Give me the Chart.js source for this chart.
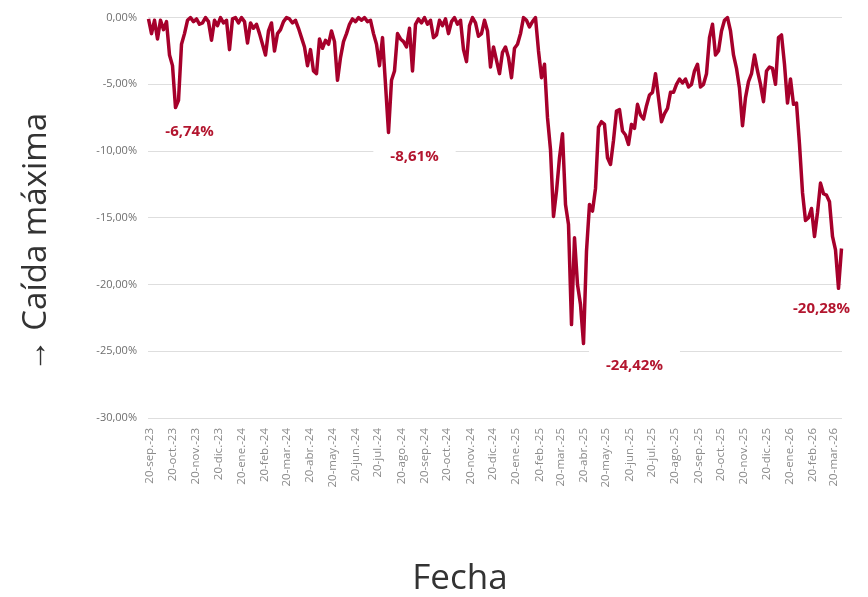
<!DOCTYPE html>
<html><head><meta charset="utf-8">
<script src="https://cdn.jsdelivr.net/npm/chart.js@4.4.1/dist/chart.umd.min.js"></script>
<style>html,body{margin:0;padding:0;background:#fff}#wrap{width:868px;height:597px}</style>
</head><body><div id="wrap"><canvas id="c" width="868" height="597"></canvas></div>
<script>
// Month tick labels (20th of each month)
const tickLabels = ['20-sep.-23','20-oct.-23','20-nov.-23','20-dic.-23','20-ene.-24','20-feb.-24','20-mar.-24','20-abr.-24','20-may.-24','20-jun.-24','20-jul.-24','20-ago.-24','20-sep.-24','20-oct.-24','20-nov.-24','20-dic.-24','20-ene.-25','20-feb.-25','20-mar.-25','20-abr.-25','20-may.-25','20-jun.-25','20-jul.-25','20-ago.-25','20-sep.-25','20-oct.-25','20-nov.-25','20-dic.-25','20-ene.-26','20-feb.-26','20-mar.-26'];
// Drawdown (%) sampled every 4 days starting 2 days before 20-sep-23
const drawdown = [
-0.1,-1.2,-0.2,-1.6,-0.2,-0.9,-0.3,-2.8,-3.6,-6.74,
-6.2,-2.0,-1.2,-0.2,0,-0.3,-0.1,-0.5,-0.4,0,
-0.3,-1.7,-0.2,-0.6,0,-0.4,-0.2,-2.4,-0.1,0,
-0.4,0,-0.3,-1.9,-0.4,-0.8,-0.5,-1.2,-2.0,-2.8,
-1.0,-0.4,-2.5,-1.2,-0.9,-0.3,0,-0.1,-0.4,-0.2,
-0.8,-1.5,-2.2,-3.6,-2.4,-4.0,-4.2,-1.6,-2.3,-1.7,
-2.0,-1.0,-1.8,-4.7,-3.0,-1.8,-1.2,-0.5,-0.1,-0.3,
0,-0.2,0,-0.3,-0.2,-1.2,-2.0,-3.6,-1.5,-5.0,
-8.61,-4.7,-4.0,-1.2,-1.6,-1.8,-2.2,-0.8,-4.0,-0.5,
-0.1,-0.4,0,-0.5,-0.2,-1.5,-1.3,-0.2,-0.6,-0.1,
-1.2,-0.3,0,-0.5,-0.2,-2.4,-3.3,-0.6,0,-0.4,
-1.4,-1.2,-0.2,-1.0,-3.7,-2.2,-3.2,-4.2,-2.6,-2.2,
-3.0,-4.5,-2.3,-2.0,-1.2,0,-0.2,-0.7,-0.3,0,
-2.5,-4.5,-3.5,-7.5,-9.9,-14.9,-13.0,-10.5,-8.7,-14.0,
-15.5,-23.0,-16.5,-20.0,-21.5,-24.42,-17.5,-14.0,-14.5,-12.8,
-8.2,-7.8,-8.0,-10.5,-11.0,-9.2,-7.0,-6.9,-8.5,-8.8,
-9.5,-8.0,-8.3,-6.5,-7.3,-7.6,-6.6,-5.8,-5.6,-4.2,
-6.0,-7.8,-7.2,-6.8,-5.6,-5.6,-5.0,-4.6,-4.9,-4.6,
-5.2,-5.0,-4.0,-3.5,-5.2,-5.0,-4.2,-1.5,-0.5,-2.8,
-2.5,-1.0,-0.2,0,-1.0,-2.8,-3.8,-5.3,-8.1,-6.0,
-4.8,-4.2,-2.8,-4.0,-5.0,-6.3,-4.0,-3.7,-3.8,-5.0,
-1.5,-1.3,-3.5,-6.4,-4.6,-6.5,-6.4,-9.5,-13.1,-15.2,
-15.0,-14.3,-16.4,-14.6,-12.4,-13.2,-13.3,-13.8,-16.4,-17.4,
-20.28,-17.3
];
const troughValues = [-6.74, -8.61, -24.42, -20.28];
const troughTexts = ['-6,74%', '-8,61%', '-24,42%', '-20,28%'];
const yTicks = [0, -5, -10, -15, -20, -25, -30];

const startDay = -2, stepDays = 4;
const DAY = 86400000;
const origin = Date.UTC(2023, 8, 20);
const tickDays = tickLabels.map((_, i) => Math.round((Date.UTC(2023, 8 + i, 20) - origin) / DAY));
const points = drawdown.map((v, i) => ({x: startDay + stepDays * i, y: v}));

const LINE = '#a6002b';
const LABEL = '#b3162f';
const FONT = '"Open Sans", "Liberation Sans", sans-serif';

const troughLabels = {
  id: 'troughLabels',
  beforeDatasetsDraw(chart, args, opts) {
    const {ctx, scales: {x, y}} = chart;
    ctx.save();
    ctx.font = 'bold 15px ' + FONT;
    ctx.textAlign = 'center';
    ctx.textBaseline = 'middle';
    troughValues.forEach((v, k) => {
      const idx = drawdown.indexOf(v);
      const off = opts.offsets[k];
      const px = x.getPixelForValue(points[idx].x) + off[0];
      const py = y.getPixelForValue(v) + off[1];
      const w = ctx.measureText(troughTexts[k]).width + 2 * opts.padX;
      const h = opts.boxH;
      ctx.fillStyle = '#ffffff';
      ctx.fillRect(px - w / 2, py - h / 2, w, h);
      ctx.fillStyle = LABEL;
      ctx.fillText(troughTexts[k], px, py);
    });
    ctx.restore();
  }
};

new Chart(document.getElementById('c'), {
  type: 'line',
  data: {
    datasets: [{
      data: points,
      borderColor: LINE,
      borderWidth: 3.5,
      pointRadius: 0,
      tension: 0,
      borderJoinStyle: 'round',
      clip: 4
    }]
  },
  plugins: [troughLabels],
  options: {
    responsive: false,
    animation: false,
    devicePixelRatio: 1,
    layout: {padding: {top: 12, right: 26, left: 0, bottom: 0}},
    plugins: {
      legend: {display: false},
      tooltip: {enabled: false},
      troughLabels: {offsets: [[14, 24], [26, 24], [51, 22], [-17, 20]], padX: 17, boxH: 36}
    },
    scales: {
      x: {
        type: 'linear',
        min: -2.67,
        max: 922.67,
        afterBuildTicks: (s) => { s.ticks = tickDays.map(d => ({value: d})); },
        afterFit: (s) => { s.height = 179; },
        grid: {display: false},
        border: {display: false},
        ticks: {
          autoSkip: false,
          maxRotation: 90,
          minRotation: 90,
          padding: 2,
          color: '#8a8a8a',
          font: {family: FONT, size: 11.5},
          callback: (v) => { const k = tickDays.indexOf(v); return k >= 0 ? tickLabels[k] : ''; }
        },
        title: {
          display: true,
          text: 'Fecha\u2003\u2003',
          color: '#333',
          font: {family: FONT, size: 35, lineHeight: 1},
          padding: {top: 0, bottom: 0}
        }
      },
      y: {
        min: -30,
        max: 0,
        afterBuildTicks: (s) => { s.ticks = yTicks.map(v => ({value: v})); },
        afterFit: (s) => { s.width = 148; },
        grid: {color: '#dedede', drawTicks: false, lineWidth: 1},
        border: {display: false},
        ticks: {
          padding: 11,
          color: '#6e6e6e',
          font: {family: FONT, size: 11},
          callback: (v) => v.toFixed(2).replace('.', ',') + '%'
        },
        title: {
          display: true,
          text: '→ Caída máxima\u2003\u2002',
          color: '#333',
          font: {family: FONT, size: 33, lineHeight: 1},
          padding: {top: 20, bottom: 0}
        }
      }
    }
  }
});
</script>
</body></html>
